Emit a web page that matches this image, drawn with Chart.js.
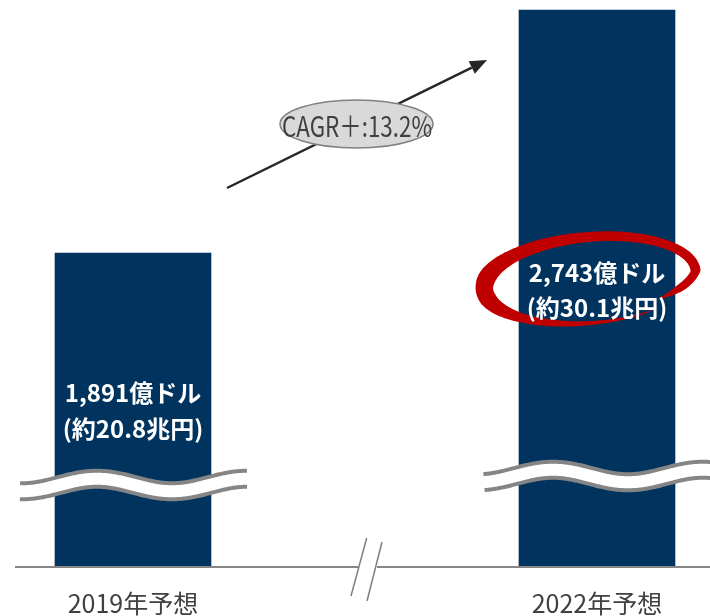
<!DOCTYPE html>
<html>
<head>
<meta charset="utf-8">
<script src="https://cdn.jsdelivr.net/npm/chart.js@4/dist/chart.umd.min.js"></script>
<style>
  html, body { margin: 0; padding: 0; background: #ffffff; }
  #wrap { width: 710px; height: 616px; position: relative; }
</style>
</head>
<body>
<div id="wrap"><canvas id="c" width="710" height="616"></canvas></div>
<script>
// Market size forecast (億ドル) and its yen equivalent (兆円)
const categories = ['2019年予想', '2022年予想'];
const marketUsd = [1891, 2743];
const marketYen = [20.8, 30.1];
const cagrPct = 13.2;

// Value where the (broken) value axis starts
const axisStart = 790;

const FONT = '"Noto Sans CJK JP", "Noto Sans", sans-serif';
const NAVY = '#00345f';

// Value labels: two lines per bar
const valueLabels = marketUsd.map((v, i) => [
  v.toLocaleString('en-US') + '億ドル',
  '(約' + marketYen[i].toFixed(1) + '兆円)'
]);

// Draws a sinusoidal path between x0 and x1
function wavePath(ctx, x0, x1, peakX, cy, amp, period) {
  ctx.beginPath();
  for (let x = x0; x <= x1; x += 1) {
    const y = cy - amp * Math.cos(2 * Math.PI * (x - peakX) / period);
    if (x === x0) ctx.moveTo(x, y); else ctx.lineTo(x, y);
  }
}

// Brush-like open ellipse whose stroke width varies around the loop
function brushEllipse(ctx, o) {
  const widthAt = t => {
    const s = o.stops;
    if (t <= s[0][0]) return s[0][1];
    for (let i = 1; i < s.length; i++) {
      if (t <= s[i][0]) {
        const f = (t - s[i - 1][0]) / (s[i][0] - s[i - 1][0]);
        return s[i - 1][1] + f * (s[i][1] - s[i - 1][1]);
      }
    }
    return s[s.length - 1][1];
  };
  const outer = [], inner = [];
  for (let t = o.t0; t <= o.t1 + 1e-9; t += 0.02) {
    const k = t > o.shrinkFrom ? 1 - o.shrink * (t - o.shrinkFrom) / (o.t1 - o.shrinkFrom) : 1;
    const ex = o.rx * k * Math.cos(t), ey = o.ry * k * Math.sin(t);
    let nx = Math.cos(t) * o.ry, ny = Math.sin(t) * o.rx;
    const nl = Math.hypot(nx, ny); nx /= nl; ny /= nl;
    const w = widthAt(t) / 2;
    outer.push([ex + nx * w, ey + ny * w]);
    inner.push([ex - nx * w, ey - ny * w]);
  }
  ctx.save();
  ctx.translate(o.cx, o.cy);
  ctx.rotate(o.rot);
  ctx.beginPath();
  outer.forEach((p, i) => i ? ctx.lineTo(p[0], p[1]) : ctx.moveTo(p[0], p[1]));
  for (let i = inner.length - 1; i >= 0; i--) ctx.lineTo(inner[i][0], inner[i][1]);
  ctx.closePath();
  ctx.fillStyle = o.color;
  ctx.fill();
  ctx.restore();
}

const decorations = {
  id: 'decorations',
  afterDatasetsDraw(chart) {
    const ctx = chart.ctx;
    const meta = chart.getDatasetMeta(0);
    const base = chart.chartArea.bottom;
    const bars = meta.data;

    // Omission marks across each bar (wavy double line)
    const breakLift = [82, 91];
    const peakShift = [-36, -44];
    bars.forEach((bar, i) => {
      const cy = base - breakLift[i];
      const x0 = bar.x - 113, x1 = bar.x + 114, pk = bar.x + peakShift[i];
      ctx.save();
      ctx.lineCap = 'butt';
      wavePath(ctx, x0, x1, pk, cy, 6.25, 150);
      ctx.strokeStyle = '#858585';
      ctx.lineWidth = 20;
      ctx.stroke();
      wavePath(ctx, x0 - 2, x1 + 2, pk, cy, 6.25, 150);
      ctx.strokeStyle = '#ffffff';
      ctx.lineWidth = 12;
      ctx.stroke();
      ctx.restore();
    });

    // Baseline with axis break
    ctx.save();
    ctx.strokeStyle = '#868686';
    ctx.lineWidth = 2;
    ctx.beginPath();
    ctx.moveTo(15, base); ctx.lineTo(358, base);
    ctx.moveTo(377, base); ctx.lineTo(710, base);
    ctx.stroke();
    ctx.lineWidth = 1.5;
    ctx.strokeStyle = '#7f7f7f';
    ctx.beginPath();
    ctx.moveTo(366.7, base - 29); ctx.lineTo(351, base + 29);
    ctx.moveTo(382, base - 25); ctx.lineTo(367, base + 34);
    ctx.stroke();
    ctx.restore();

    // Highlight loop around the 2022 value
    const b2 = bars[1];
    brushEllipse(ctx, {
      cx: b2.x - 7, cy: 280, rx: 106, ry: 43, rot: -5 * Math.PI / 180,
      t0: 1.0, t1: 2 * Math.PI + 0.75, shrinkFrom: 2 * Math.PI, shrink: 0.15,
      color: '#c00000',
      stops: [[1.0, 1], [1.6, 4], [2.3, 9], [2.9, 17], [3.4, 18], [4.0, 13],
              [4.7, 10], [5.5, 9], [6.28, 10], [6.7, 8], [7.03, 1]]
    });

    // Value labels inside the bars
    const labelDrop = [[140, 176], [262.5, 298]];
    ctx.save();
    ctx.fillStyle = '#ffffff';
    ctx.font = 'bold 24px ' + FONT;
    ctx.textAlign = 'center';
    ctx.textBaseline = 'middle';
    bars.forEach((bar, i) => {
      ctx.fillText(valueLabels[i][0], bar.x, bar.y + labelDrop[i][0]);
      ctx.fillText(valueLabels[i][1], bar.x, bar.y + labelDrop[i][1]);
    });
    ctx.restore();

    // Growth arrow
    const ax0 = 227, ay0 = 188, ax1 = 487, ay1 = 60;
    const ang = Math.atan2(ay1 - ay0, ax1 - ax0);
    const headLen = 17, headHalf = 7;
    const hx = ax1 - headLen * Math.cos(ang), hy = ay1 - headLen * Math.sin(ang);
    ctx.save();
    ctx.strokeStyle = '#262626';
    ctx.fillStyle = '#262626';
    ctx.lineWidth = 2.5;
    ctx.beginPath();
    ctx.moveTo(ax0, ay0); ctx.lineTo(hx, hy);
    ctx.stroke();
    ctx.beginPath();
    ctx.moveTo(ax1, ay1);
    ctx.lineTo(hx + headHalf * Math.sin(ang), hy - headHalf * Math.cos(ang));
    ctx.lineTo(hx - headHalf * Math.sin(ang), hy + headHalf * Math.cos(ang));
    ctx.closePath();
    ctx.fill();
    ctx.restore();

    // CAGR bubble
    const ex = 356.5, ey = 124;
    ctx.save();
    ctx.beginPath();
    ctx.ellipse(ex, ey, 76.5, 24, 0, 0, 2 * Math.PI);
    ctx.fillStyle = '#d9d9d9';
    ctx.fill();
    ctx.strokeStyle = '#808080';
    ctx.lineWidth = 1.5;
    ctx.stroke();
    const cagrText = 'CAGR＋:' + cagrPct.toFixed(1) + '%';
    ctx.font = '28px ' + FONT;
    const tw = ctx.measureText(cagrText).width;
    ctx.translate(ex + 0.5, ey + 2);
    ctx.scale(150 / tw, 1);
    ctx.fillStyle = '#404040';
    ctx.textAlign = 'center';
    ctx.textBaseline = 'middle';
    ctx.fillText(cagrText, 0, 0);
    ctx.restore();
  }
};

new Chart(document.getElementById('c'), {
  type: 'bar',
  data: {
    labels: categories,
    datasets: [{
      data: marketUsd,
      base: axisStart,
      backgroundColor: NAVY,
      borderWidth: 0,
      barThickness: 156,
      clip: false
    }]
  },
  options: {
    responsive: false,
    animation: false,
    events: [],
    layout: { padding: { left: 133, right: 113, top: 10, bottom: -23 } },
    plugins: { legend: { display: false }, tooltip: { enabled: false } },
    scales: {
      x: {
        offset: false,
        grid: { display: false, drawTicks: false },
        border: { display: false },
        ticks: {
          autoSkip: false,
          maxRotation: 0,
          padding: 23,
          color: '#404040',
          font: { family: FONT, size: 25, lineHeight: 1.04 }
        }
      },
      y: {
        display: false,
        min: axisStart,
        max: 2743
      }
    }
  },
  plugins: [decorations]
});
</script>
</body>
</html>
